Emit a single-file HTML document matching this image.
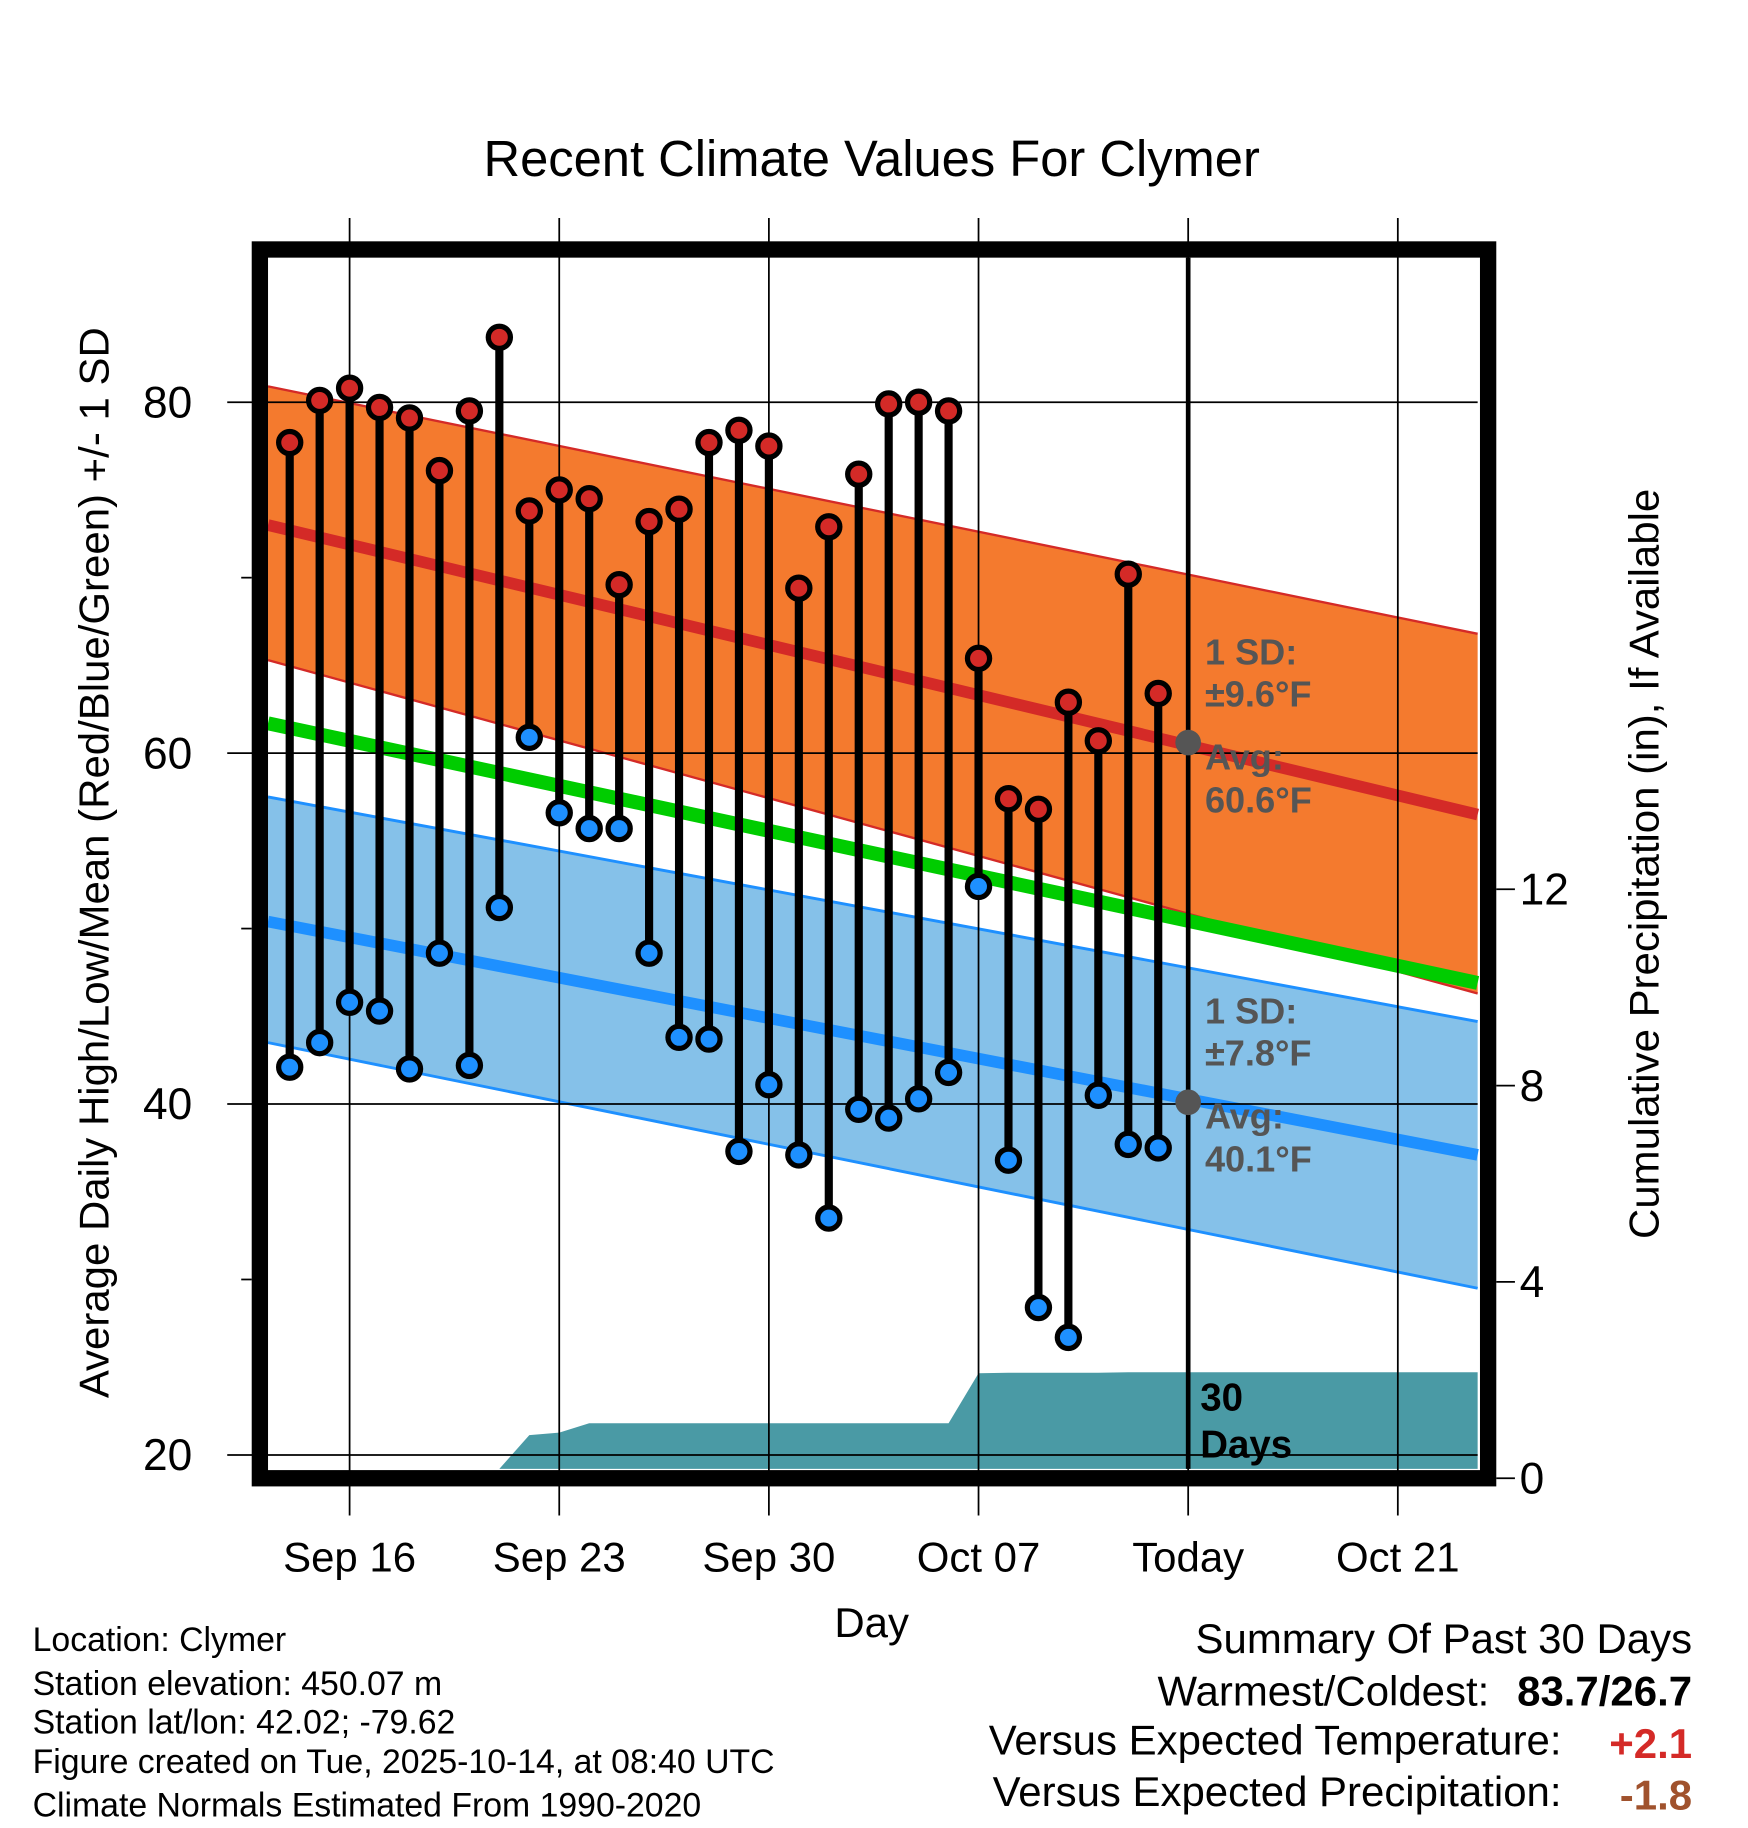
<!DOCTYPE html>
<html><head><meta charset="utf-8"><style>
html,body{margin:0;padding:0;background:#fff}
svg{display:block}
text{font-family:"Liberation Sans",Arial,sans-serif}
</style></head><body>
<svg id="chart" width="1748" height="1828" viewBox="0 0 1500 1568" preserveAspectRatio="none" xmlns="http://www.w3.org/2000/svg">
<text x="748" y="151" font-size="43.5" text-anchor="middle">Recent Climate Values For Clymer</text>
<g id="plot"></g>
<text transform="translate(93,740) rotate(-90)" font-size="36" text-anchor="middle">Average Daily High/Low/Mean (Red/Blue/Green) +/- 1 SD</text>
<text transform="translate(1423,741) rotate(-90)" font-size="36" text-anchor="middle">Cumulative Precipitation (in), If Available</text>
<text x="748" y="1404" font-size="36" text-anchor="middle">Day</text>
<g font-size="29">
<text x="28" y="1416">Location: Clymer</text>
<text x="28" y="1454">Station elevation: 450.07 m</text>
<text x="28" y="1487">Station lat/lon: 42.02; -79.62</text>
<text x="28" y="1521">Figure created on Tue, 2025-10-14, at 08:40 UTC</text>
<text x="28" y="1558">Climate Normals Estimated From 1990-2020</text>
</g>
<g font-size="36" text-anchor="end">
<text x="1452" y="1418">Summary Of Past 30 Days</text>
<text x="1278" y="1463">Warmest/Coldest:</text>
<text x="1452" y="1463" font-weight="bold">83.7/26.7</text>
<text x="1340" y="1505">Versus Expected Temperature:</text>
<text x="1452" y="1508" font-weight="bold" fill="#d42a27">+2.1</text>
<text x="1340" y="1549">Versus Expected Precipitation:</text>
<text x="1452" y="1552" font-weight="bold" fill="#a0522d">-1.8</text>
</g>
</svg>
<script>
const highs=[77.7,80.1,80.8,79.7,79.1,76.1,79.5,83.7,73.8,75.0,74.5,69.6,73.2,73.9,77.7,78.4,77.5,69.4,72.9,75.9,79.9,80.0,79.5,65.4,57.4,56.8,62.9,60.7,70.2,63.4];
const lows=[42.1,43.5,45.8,45.3,42.0,48.6,42.2,51.2,60.9,56.6,55.7,55.7,48.6,43.8,43.7,37.3,41.1,37.1,33.5,39.7,39.2,40.3,41.8,52.4,36.8,28.4,26.7,40.5,37.7,37.5];
const precip=[0,0,0,0,0,0,0,0,0.88,0.93,1.12,1.12,1.12,1.12,1.12,1.12,1.12,1.12,1.12,1.12,1.12,1.12,1.12,2.14,2.15,2.15,2.15,2.15,2.16,2.16];
const normHighUpper=[80.9,66.8];
const normHighMean=[73.0,56.5];
const normHighLower=[65.3,46.3];
const normMean=[61.7,46.9];
const normLowUpper=[57.5,44.7];
const normLowMean=[50.4,37.1];
const normLowLower=[43.5,29.5];
const yTicks=[20,40,60,80];
const y2Ticks=[0,4,8,12];
const xTickLabels=["Sep 16","Sep 23","Sep 30","Oct 07","Today","Oct 21"];
const xTickDays=[2,9,16,23,30,37];
// day 0 = Sep 14
const NS="http://www.w3.org/2000/svg";
const PL=230,PR=1268,PT=221,PB=1260;
const xDay=d=>300+(d-2)*25.7;
const yT=t=>345+(80-t)*15.05;
const yP=p=>1268-p*42.1;
const g=document.getElementById('plot');
function mk(tag,attrs,parent){const e=document.createElementNS(NS,tag);for(const k in attrs)e.setAttribute(k,attrs[k]);(parent||g).appendChild(e);return e;}
function band(up,lo,fill,name){
 const e=mk('polygon',{points:`${PL},${yT(up[0])} ${PR},${yT(up[1])} ${PR},${yT(lo[1])} ${PL},${yT(lo[0])}`,fill:fill});
 
 
}
function line(v,col,w,name){
 const e=mk('line',{x1:PL,y1:yT(v[0]),x2:PR,y2:yT(v[1]),stroke:col,'stroke-width':w});
 
 
}
band(normHighUpper,normHighLower,'#f47a2e','high-sd-band');
line(normHighUpper,'#d42a27',2,'high-upper-line');
line(normHighLower,'#d42a27',2,'high-lower-line');
band(normLowUpper,normLowLower,'#85c1e9','low-sd-band');
line(normLowUpper,'#1e90ff',2.5,'low-upper-line');
line(normLowLower,'#1e90ff',2.5,'low-lower-line');
line(normMean,'#00cc00',12,'normal-mean-line');
line(normHighMean,'#d42a27',10,'normal-high-line');
line(normLowMean,'#1e90ff',10,'normal-low-line');
let pts=`${xDay(0)},${PB} `;
precip.forEach((p,i)=>{pts+=`${xDay(i)},${Math.min(PB,yP(p))} `;});
pts+=`${PR},${Math.min(PB,yP(precip[precip.length-1]))} ${PR},${PB}`;
const pa=mk('polygon',{points:pts,fill:'#4a9aa5'});


yTicks.forEach(t=>{
 const e=mk('line',{x1:195,y1:yT(t),x2:PR,y2:yT(t),stroke:'#000','stroke-width':1.5});
 
 
 const l=mk('text',{x:165,y:yT(t)+13,'font-size':38,'text-anchor':'end'});l.textContent=t;
 
 
});
[30,50,70].forEach(t=>{mk('line',{x1:207,y1:yT(t),x2:216,y2:yT(t),stroke:'#000','stroke-width':1.5});});
y2Ticks.forEach(p=>{
 const e=mk('line',{x1:1284,y1:yP(p),x2:1300,y2:yP(p),stroke:'#000','stroke-width':1.5});
 
 
 const l=mk('text',{x:1304,y:yP(p)+13,'font-size':38});l.textContent=p;
 
 
});
xTickDays.forEach((d,i)=>{
 const x=xDay(d);
 const e=mk('line',{x1:x,y1:187,x2:x,y2:1300,stroke:'#000','stroke-width':1.5});
 
 
 const l=mk('text',{x:x,y:1348,'font-size':36,'text-anchor':'middle'});l.textContent=xTickLabels[i];
 
 
});
const tl=mk('line',{x1:xDay(30),y1:PT,x2:xDay(30),y2:PB,stroke:'#000','stroke-width':4});


highs.forEach((h,i)=>{
 const x=xDay(i);
 const s=mk('line',{x1:x,y1:yT(h),x2:x,y2:yT(lows[i]),stroke:'#000','stroke-width':7});
 
 
});
highs.forEach((h,i)=>{
 const x=xDay(i);
 const a=mk('circle',{cx:x,cy:yT(h),r:9.5,fill:'#d42a27',stroke:'#000','stroke-width':4.5});
 
 
 const b=mk('circle',{cx:x,cy:yT(lows[i]),r:9.5,fill:'#1e90ff',stroke:'#000','stroke-width':4.5});
 
 
});
[60.6,40.1].forEach(v=>{const c=mk('circle',{cx:xDay(30),cy:yT(v),r:11,fill:'#555'});
 
 });
function txt(s,x,y,opts,name){const t=mk('text',Object.assign({x:x,y:y},opts));t.textContent=s;
 
 }
const ann={'font-size':31,'font-weight':'bold',fill:'#555'};
txt('1 SD:',1034,570,ann,'high-sd-label');
txt('±9.6°F',1034,606,ann,'high-sd-value');
txt('Avg:',1034,660,ann,'high-avg-label');
txt('60.6°F',1034,697,ann,'high-avg-value');
txt('1 SD:',1034,878,ann,'low-sd-label');
txt('±7.8°F',1034,914,ann,'low-sd-value');
txt('Avg:',1034,968,ann,'low-avg-label');
txt('40.1°F',1034,1005,ann,'low-avg-value');
txt('30',1030,1210,{'font-size':33,'font-weight':'bold'},'days-label');
txt('Days',1030,1250,{'font-size':33,'font-weight':'bold'},'days-label-2');
const f=mk('rect',{x:223,y:214,width:1054,height:1054,fill:'none',stroke:'#000','stroke-width':14});


</script>
</body></html>
